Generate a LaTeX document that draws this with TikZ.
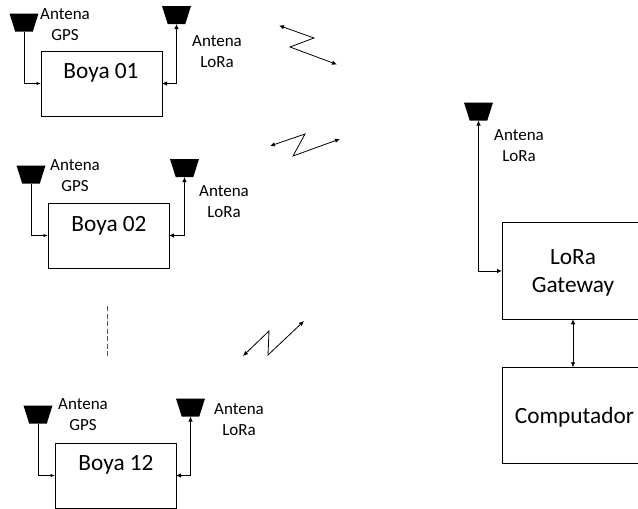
\documentclass[tikz,border=0pt]{standalone}
\usepackage{fontspec}
\setmainfont{Carlito}
\usetikzlibrary{shapes.geometric,arrows.meta}
\newcommand{\antbody}{\rule{2pt}{2pt}}
\tikzset{
  x=1pt,y=-1pt,
  every node/.style={inner sep=0pt,outer sep=0pt},
  ant/.style={trapezium,shape border rotate=180,trapezium stretches=true,trapezium left angle=72,trapezium right angle=72,minimum width=29pt,minimum height=18pt,fill=black},
  boyabox/.style={draw=black,line width=0.8pt,minimum width=121pt,minimum height=65pt},
  bigbox/.style={draw=black,line width=0.8pt,minimum width=142pt,minimum height=96.5pt},
  small/.style={font=\fontsize{17}{21}\selectfont,align=center},
  big/.style={font=\fontsize{23.3}{28}\selectfont,align=center},
  wire/.style={line width=0.8pt,draw=black},
  both/.style={wire,{Latex[length=5pt,width=4.5pt]}-{Latex[length=5pt,width=4.5pt]}},
  one/.style={wire,-{Latex[length=4.5pt,width=3.5pt]}},
}
\begin{document}
\begin{tikzpicture}
\useasboundingbox (0,0) rectangle (638,509);
\clip (0,0) rectangle (638,509);
% Boya 01
\node[boyabox] (b1) at (101.5,83.5) {};
\node[big] (b1t) at (101,73) {Boya 01};
\node[ant] (g1) at (24,22.5) {\antbody};
\node[ant] (l1) at (176.5,15) {\antbody};
\node[small] (g1t) at (65,24.5) {Antena\\GPS};
\node[small] (l1t) at (217,51.5) {Antena\\LoRa};
\draw[one] (g1.south) |- (b1.west);
\draw[both] (b1.east) -| (l1.south);
% Boya 02
\node[boyabox] (b2) at (108.5,235.5) {};
\node[big] (b2t) at (109,226) {Boya 02};
\node[ant] (g2) at (31,174.5) {\antbody};
\node[ant] (l2) at (184.5,168) {\antbody};
\node[small] (g2t) at (75,175.5) {Antena\\GPS};
\node[small] (l2t) at (224,201.5) {Antena\\LoRa};
\draw[one] (g2.south) |- (b2.west);
\draw[both] (b2.east) -| (l2.south);
% Boya 12
\node[boyabox] (b3) at (115.5,475.5) {};
\node[big] (b3t) at (116,465) {Boya 12};
\node[ant] (g3) at (38,414.5) {\antbody};
\node[ant] (l3) at (190.5,407.5) {\antbody};
\node[small] (g3t) at (83,414.5) {Antena\\GPS};
\node[small] (l3t) at (239,419.5) {Antena\\LoRa};
\draw[one] (g3.south) |- (b3.west);
\draw[both] (b3.east) -| (l3.south);
% Gateway
\node[bigbox] (gw) at (573,271) {};
\node[big] (gwt) at (573,273) {LoRa\\Gateway};
\node[bigbox] (pc) at (573,415.5) {};
\node[big] (pct) at (574.5,417) {Computador};
\node[ant] (l4) at (478.5,111.5) {\antbody};
\node[small] (l4t) at (519,145.5) {Antena\\LoRa};
\draw[both] (gw.west) -| (l4.south);
\draw[both] (gw.south) -- (pc.north);
% dashed separator
\coordinate (d1) at (107,306);
\coordinate (d2) at (107,356);
\draw[line width=1pt,draw=black!65,dash pattern=on 5pt off 2.5pt] (d1) -- (d2);
% radio links
\coordinate (z1a) at (279,25.5);
\coordinate (z1b) at (314,38);
\coordinate (z1c) at (290,47);
\coordinate (z1d) at (337,64.5);
\draw[both,line join=miter] (z1a) -- (z1b) -- (z1c) -- (z1d);
\coordinate (z2a) at (270,146);
\coordinate (z2b) at (305,134);
\coordinate (z2c) at (293,156);
\coordinate (z2d) at (340,139);
\draw[both] (z2a) -- (z2b) -- (z2c) -- (z2d);
\coordinate (z3a) at (243,356);
\coordinate (z3b) at (269,331);
\coordinate (z3c) at (268,355);
\coordinate (z3d) at (304,321);
\draw[both] (z3a) -- (z3b) -- (z3c) -- (z3d);
\end{tikzpicture}
\end{document}
